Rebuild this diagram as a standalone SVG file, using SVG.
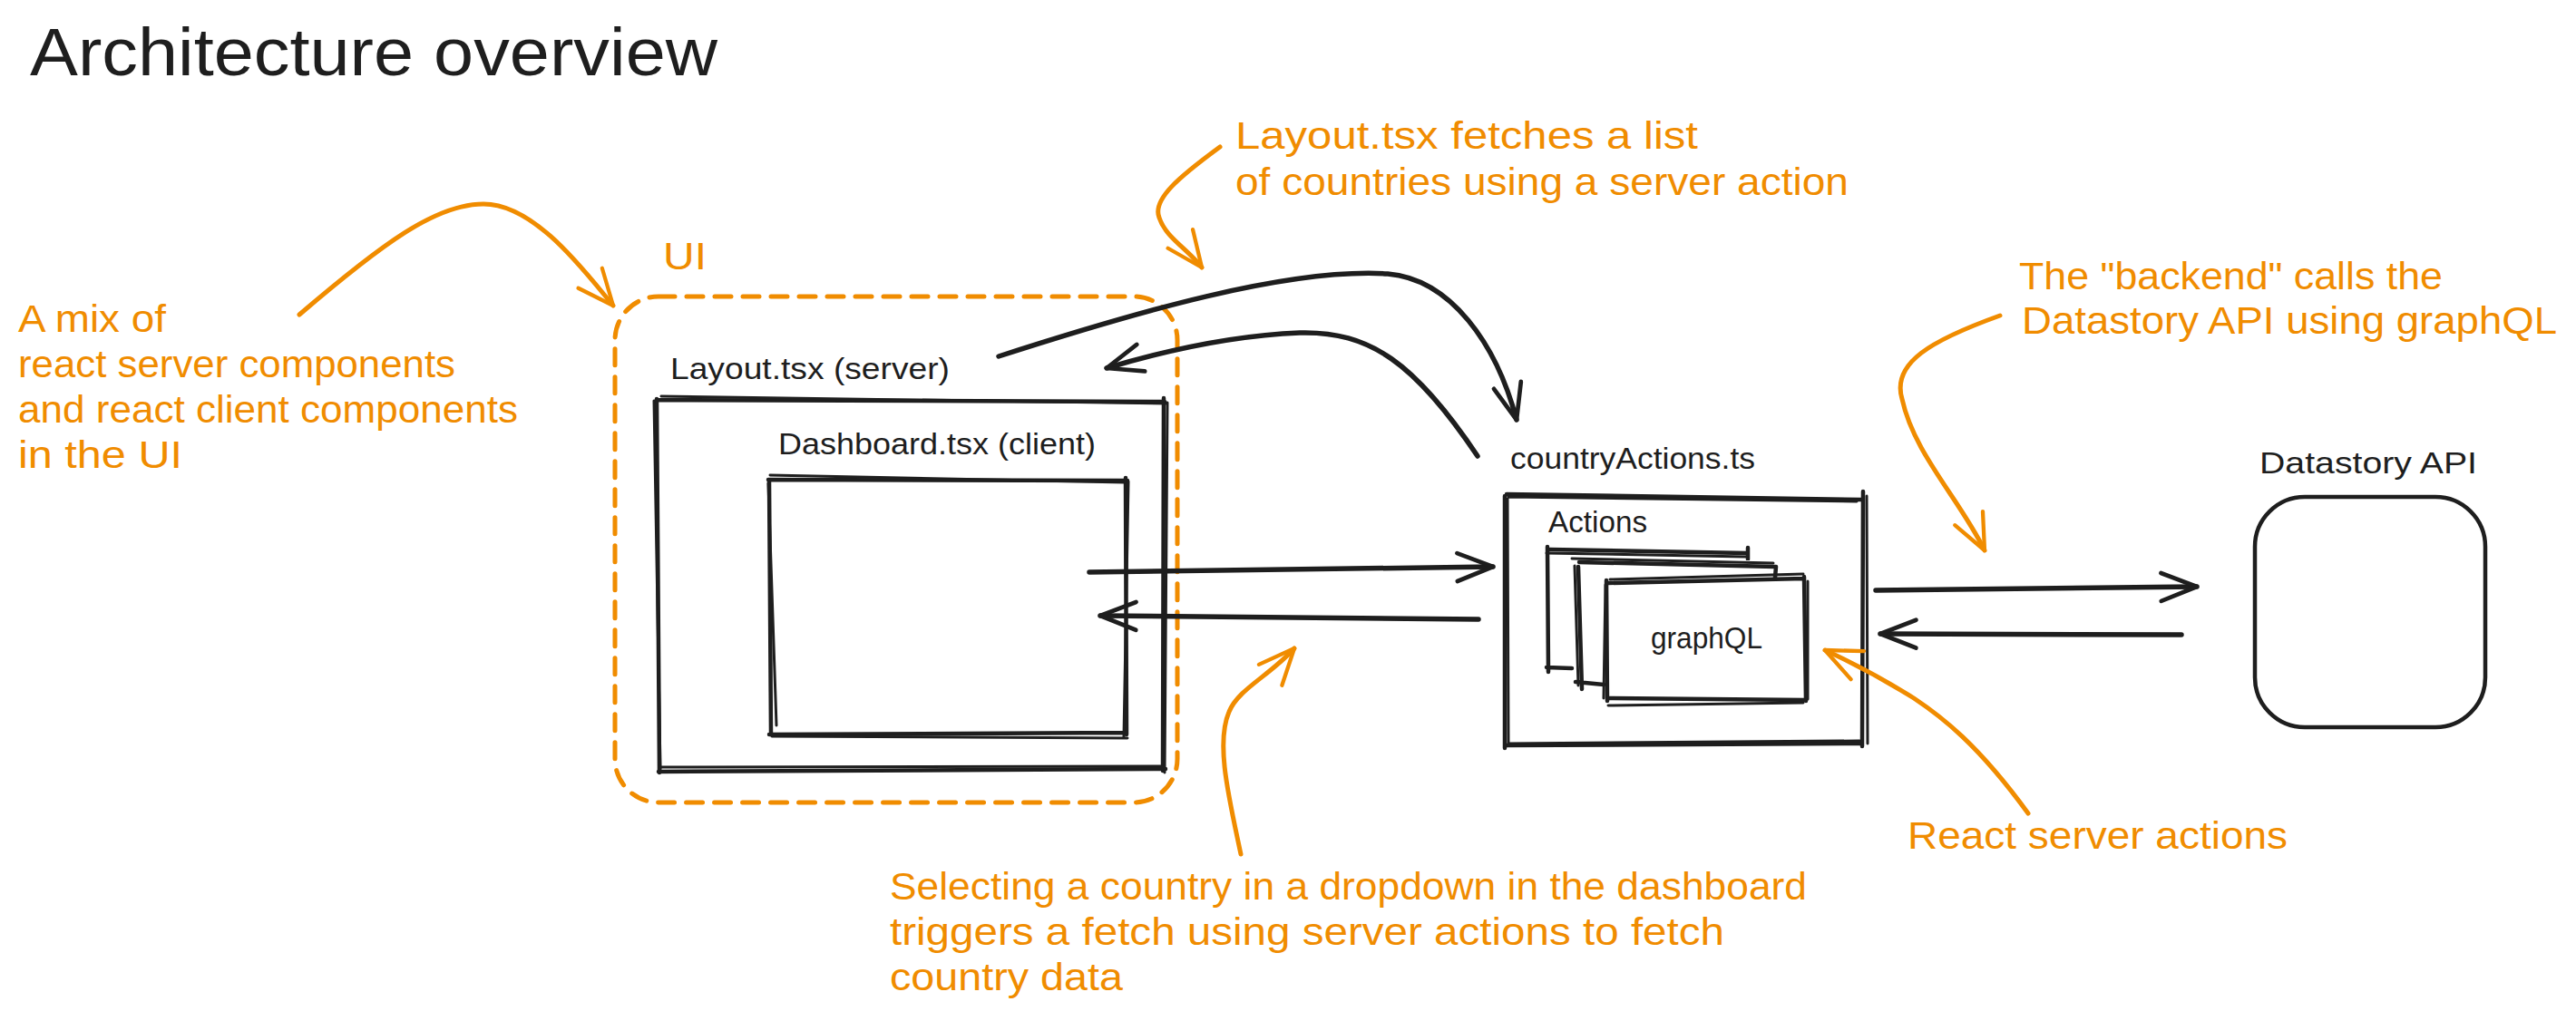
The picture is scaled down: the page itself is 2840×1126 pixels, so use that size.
<svg xmlns="http://www.w3.org/2000/svg" width="2840" height="1126" viewBox="0 0 2840 1126">
  <defs>
    <style>
      .ink { fill: none; stroke: #1e1e1e; stroke-width: 4.5; stroke-linecap: round; stroke-linejoin: round; }
      .ink2 { fill: none; stroke: #1e1e1e; stroke-width: 3; stroke-linecap: round; stroke-linejoin: round; }
      .box { fill: #ffffff; stroke: none; }
      .conn { fill: none; stroke: #1e1e1e; stroke-width: 5.5; stroke-linecap: round; stroke-linejoin: round; }
      .note { fill: none; stroke: #f08c00; stroke-width: 5; stroke-linecap: round; stroke-linejoin: round; }
      .dash { fill: none; stroke: #f08c00; stroke-width: 5; stroke-linecap: round; stroke-dasharray: 18 13; }
      .t-black { font-family: "Liberation Sans", "DejaVu Sans", sans-serif; font-size: 34px; fill: #1e1e1e; }
      .t-orange { font-family: "Liberation Sans", "DejaVu Sans", sans-serif; font-size: 42px; fill: #f08c00; }
      .t-title { font-family: "Liberation Sans", "DejaVu Sans", sans-serif; font-size: 74px; fill: #1e1e1e; }
    </style>
    <marker id="headBlack" markerUnits="userSpaceOnUse" orient="auto" refX="0" refY="0" markerWidth="60" markerHeight="60" viewBox="-60 -30 70 60" overflow="visible">
      <path d="M -46 -18 L 0 0 L -46 18" fill="none" stroke="#1e1e1e" stroke-width="5.5" stroke-linecap="round" stroke-linejoin="round"/>
    </marker>
    <marker id="headOrange" markerUnits="userSpaceOnUse" orient="auto" refX="0" refY="0" markerWidth="60" markerHeight="60" viewBox="-60 -30 70 60" overflow="visible">
      <path d="M -46 -20 L 0 0 L -46 20" fill="none" stroke="#f08c00" stroke-width="5" stroke-linecap="round" stroke-linejoin="round"/>
    </marker>
  </defs>

  <rect x="0" y="0" width="2840" height="1126" fill="#ffffff"/>

  <!-- Title -->
  <text id="title" class="t-title" x="33" y="83" textLength="758" lengthAdjust="spacingAndGlyphs">Architecture overview</text>

  <!-- UI dashed container -->
  <g id="ui-container">
    <rect class="dash" x="678" y="327" width="620" height="558" rx="48" ry="48"/>
    <text class="t-orange" x="731" y="297" textLength="48" lengthAdjust="spacingAndGlyphs">UI</text>
  </g>

  <!-- Layout.tsx (server) -->
  <g id="layout">
    <text class="t-black" x="739" y="418" textLength="308" lengthAdjust="spacingAndGlyphs">Layout.tsx (server)</text>
    <path class="ink" d="M724 441 L1284 443 M1283 439 L1282 850 M1285 848 L726 851 M727 852 L724 440"/>
    <path class="ink2" d="M729 437 L1287 445 M1287 444 L1284 852 M1281 845 L729 846 M728 848 L721 442"/>
  </g>

  <!-- Dashboard.tsx (client) -->
  <g id="dashboard">
    <text class="t-black" x="858" y="501" textLength="350" lengthAdjust="spacingAndGlyphs">Dashboard.tsx (client)</text>
    <path class="ink" d="M847 529 L1243 530 M1241 527 L1242 810 M1241 808 L848 810 M850 810 L848 530"/>
    <path class="ink2" d="M849 524 L1240 532 M1244 531 L1239 813 M1243 814 L851 812 M856 800 L847 533"/>
  </g>

  <!-- countryActions.ts -->
  <g id="countryActions">
    <text class="t-black" x="1665" y="517" textLength="270" lengthAdjust="spacingAndGlyphs">countryActions.ts</text>
    <path class="ink" d="M1661 545 L2052 551 M2054 542 L2053 823 M2053 820 L1660 822 M1659 825 L1659 547"/>
    <path class="ink2" d="M1663 548 L2047 553 M2058 547 L2059 820 M2050 817 L1664 820 M1663 820 L1662 550"/>
    <text class="t-black" x="1707" y="587" textLength="109" lengthAdjust="spacingAndGlyphs">Actions</text>
  </g>

  <!-- Actions stack with graphQL -->
  <g id="actions-stack">
    <rect class="box" x="1705" y="606" width="222" height="132"/>
    <path class="ink" d="M1709 606 L1926 610 M1927 604 L1927 617 M1706 603 L1707 741 M1705 736 L1733 737"/>
    <path class="ink2" d="M1705 610 L1925 614"/>
    <rect class="box" x="1738" y="618" width="219" height="137"/>
    <path class="ink" d="M1741 620 L1957 625 M1958 625 L1957 637 M1740 625 L1744 760 M1737 752 L1768 755"/>
    <path class="ink2" d="M1733 616 L1955 621 M1736 624 L1740 756"/>
  </g>

  <g id="graphql">
    <rect class="box" x="1771" y="639" width="220" height="134"/>
    <path class="ink" d="M1773 643 L1989 638 M1989 636 L1991 773 M1991 772 L1773 770 M1772 773 L1771 640"/>
    <path class="ink2" d="M1775 639 L1988 633 M1993 641 L1993 771 M1773 778 L1988 775 M1768 770 L1770 645"/>
    <text class="t-black" x="1820" y="715" textLength="123" lengthAdjust="spacingAndGlyphs">graphQL</text>
  </g>

  <!-- Datastory API -->
  <g id="datastory">
    <text class="t-black" x="2491" y="522" textLength="240" lengthAdjust="spacingAndGlyphs">Datastory API</text>
    <rect class="ink" x="2486" y="548" width="254" height="254" rx="55" ry="55" stroke-width="5.5"/>
  </g>

  <!-- Connectors -->
  <g id="connectors">
    <path class="conn" marker-end="url(#headBlack)" d="M1101 393 C1250 345, 1420 295, 1530 302 C1600 308, 1650 380, 1672 463"/>
    <path class="conn" marker-end="url(#headBlack)" d="M1629 503 C1560 400, 1510 365, 1433 367 C1360 370, 1290 385, 1220 406"/>
    <path class="conn" marker-end="url(#headBlack)" d="M1201 631 L1646 625"/>
    <path class="conn" marker-end="url(#headBlack)" d="M1630 683 L1213 679"/>
    <path class="conn" marker-end="url(#headBlack)" d="M2068 651 L2422 647"/>
    <path class="conn" marker-end="url(#headBlack)" d="M2405 700 L2073 699"/>
  </g>

  <!-- Annotations -->
  <g id="note-ui">
    <text class="t-orange" x="20" y="366" textLength="163" lengthAdjust="spacingAndGlyphs">A mix of</text>
    <text class="t-orange" x="20" y="416" textLength="482" lengthAdjust="spacingAndGlyphs">react server components</text>
    <text class="t-orange" x="20" y="466" textLength="551" lengthAdjust="spacingAndGlyphs">and react client components</text>
    <text class="t-orange" x="20" y="516" textLength="181" lengthAdjust="spacingAndGlyphs">in the UI</text>
    <path class="note" marker-end="url(#headOrange)" d="M330 347 C420 270, 480 225, 533 225 C590 225, 645 300, 676 337"/>
  </g>

  <g id="note-layout">
    <text class="t-orange" x="1362" y="164" textLength="510" lengthAdjust="spacingAndGlyphs">Layout.tsx fetches a list</text>
    <text class="t-orange" x="1362" y="215" textLength="676" lengthAdjust="spacingAndGlyphs">of countries using a server action</text>
    <path class="note" marker-end="url(#headOrange)" d="M1345 162 C1300 195, 1270 220, 1278 240 C1285 262, 1310 275, 1325 295"/>
  </g>

  <g id="note-backend">
    <text class="t-orange" x="2226" y="319" textLength="467" lengthAdjust="spacingAndGlyphs">The "backend" calls the</text>
    <text class="t-orange" x="2229" y="368" textLength="590" lengthAdjust="spacingAndGlyphs">Datastory API using graphQL</text>
    <path class="note" marker-end="url(#headOrange)" d="M2205 348 C2130 375, 2085 400, 2097 440 C2110 500, 2160 550, 2188 607"/>
  </g>

  <g id="note-server-actions">
    <text class="t-orange" x="2103" y="936" textLength="419" lengthAdjust="spacingAndGlyphs">React server actions</text>
    <path class="note" marker-end="url(#headOrange)" d="M2236 897 C2180 820, 2140 790, 2110 770 C2070 745, 2040 730, 2012 717"/>
  </g>

  <g id="note-selecting">
    <text class="t-orange" x="981" y="992" textLength="1011" lengthAdjust="spacingAndGlyphs">Selecting a country in a dropdown in the dashboard</text>
    <text class="t-orange" x="981" y="1042" textLength="920" lengthAdjust="spacingAndGlyphs">triggers a fetch using server actions to fetch</text>
    <text class="t-orange" x="981" y="1092" textLength="257" lengthAdjust="spacingAndGlyphs">country data</text>
    <path class="note" marker-end="url(#headOrange)" d="M1368 942 C1355 880, 1340 820, 1355 785 C1365 760, 1400 745, 1427 715"/>
  </g>
</svg>
